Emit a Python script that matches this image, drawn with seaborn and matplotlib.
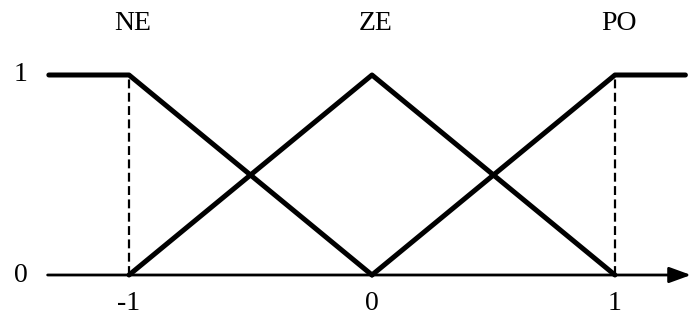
import matplotlib
matplotlib.use("Agg")
import matplotlib.pyplot as plt
import seaborn as sns
import pandas as pd

sns.set_theme(style="white")
plt.rcParams['font.family'] = ['Liberation Serif', 'DejaVu Serif']

# Membership function data
sets = ["NE", "ZE", "PO"]
ne_x = [-1.33, -1.0, 0.0]
ne_y = [1.0, 1.0, 0.0]
ze_x = [-1.0, 0.0, 1.0]
ze_y = [0.0, 1.0, 0.0]
po_x = [0.0, 1.0, 1.29]
po_y = [0.0, 1.0, 1.0]
label_x = [-1.0, 0.0, 1.0]
xtick_vals = [-1, 0, 1]
xtick_labels = ["-1", "0", "1"]
ytick_vals = [0, 1]
ytick_labels = ["0", "1"]

df = pd.concat([
    pd.DataFrame({"x": ne_x, "y": ne_y, "set": "NE"}),
    pd.DataFrame({"x": ze_x, "y": ze_y, "set": "ZE"}),
    pd.DataFrame({"x": po_x, "y": po_y, "set": "PO"}),
], ignore_index=True)

fig = plt.figure(figsize=(6.91, 3.22), dpi=100)
ax = fig.add_axes([0, 0, 1, 1])

sns.lineplot(data=df, x="x", y="y", units="set", estimator=None, sort=False,
             color="black", linewidth=3.6, ax=ax, legend=False)

# dashed verticals
for xv in [-1.0, 1.0]:
    ax.plot([xv, xv], [0, 1], color="black", linestyle=(0, (4, 2)), linewidth=1.6)

# x axis with arrow
ax.annotate("", xy=(1.313, 0), xytext=(-1.335, 0),
            arrowprops=dict(arrowstyle="-|>,head_length=1.1,head_width=0.4",
                            color="black", lw=2.0, shrinkA=0, shrinkB=0))

ax.set_xlim(-1.531, 1.313)
ax.set_ylim(-0.235, 1.375)
ax.axis("off")

fs = 20
for name, lx in zip(sets, label_x):
    ax.text(lx + 0.015, 1.255, name, ha="center", va="center", fontsize=fs, color="black")
for v, t in zip(xtick_vals, xtick_labels):
    ax.text(v, -0.14, t, ha="center", va="center", fontsize=fs, color="black")
for v, t in zip(ytick_vals, ytick_labels):
    ax.text(-1.445, v, t, ha="center", va="center", fontsize=fs, color="black")

fig.savefig("out.png", dpi=100)
